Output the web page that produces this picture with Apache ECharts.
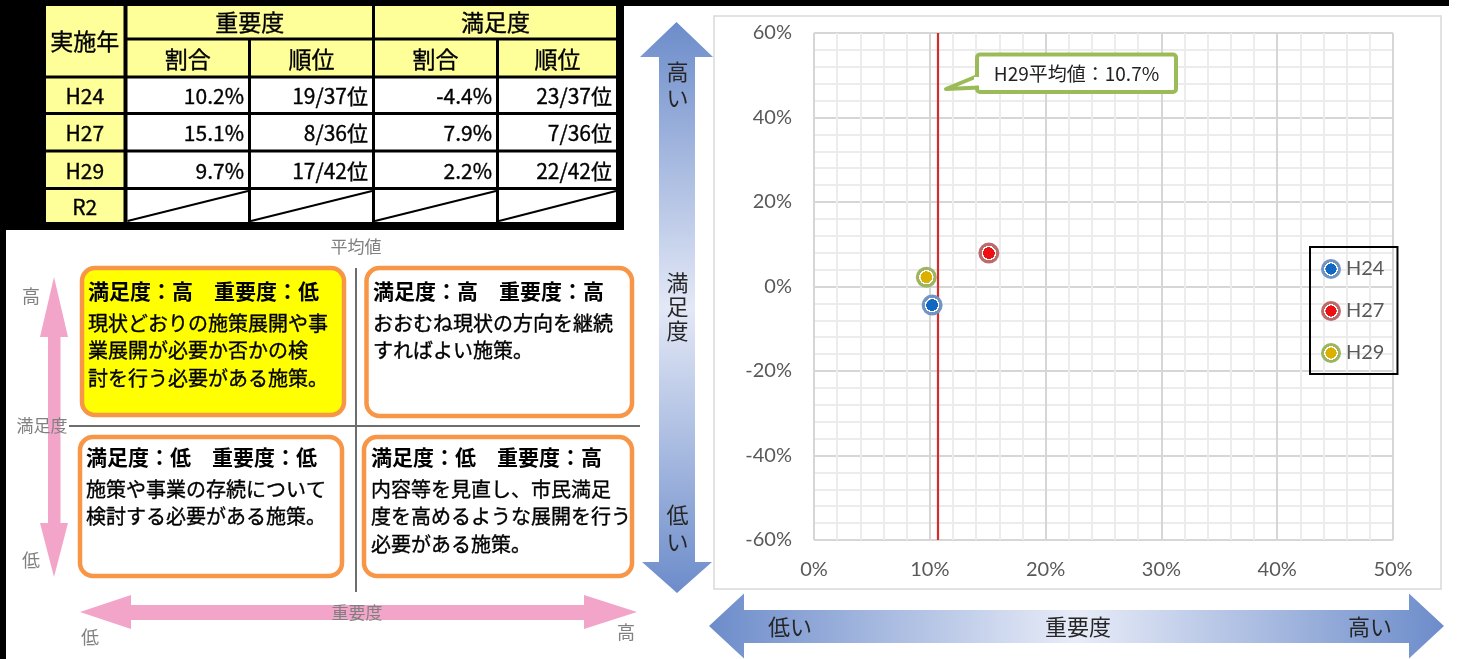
<!DOCTYPE html>
<html>
<head>
<meta charset="utf-8">
<script src="https://cdn.jsdelivr.net/npm/echarts@6/dist/echarts.min.js"></script>
<style>
  html, body { margin: 0; padding: 0; background: #ffffff; }
  #chart { width: 1475px; height: 659px; }
</style>
</head>
<body>
<div id="chart"></div>
<script>
// ---- data ----
const years = ['H24', 'H27', 'H29', 'R2'];
const importance = [10.2, 15.1, 9.7, null];          // 重要度 割合 (%)
const importanceRank = ['19/37位', '8/36位', '17/42位', null];
const satisfaction = [-4.4, 7.9, 2.2, null];         // 満足度 割合 (%)
const satisfactionRank = ['23/37位', '7/36位', '22/42位', null];
const meanYear = 'H29';
const meanImportance = 10.7;                         // H29 平均値 (%)
const xRange = [0, 50, 10];                          // min, max, step (%)
const yRange = [-60, 60, 20];

const tableHeader = ['実施年', '重要度', '満足度', '割合', '順位'];
const quadrantTitles = ['満足度：高　重要度：低', '満足度：高　重要度：高', '満足度：低　重要度：低', '満足度：低　重要度：高'];
const quadrantBodies = [
  ['現状どおりの施策展開や事', '業展開が必要か否かの検', '討を行う必要がある施策。'],
  ['おおむね現状の方向を継続', 'すればよい施策。'],
  ['施策や事業の存続について', '検討する必要がある施策。'],
  ['内容等を見直し、市民満足', '度を高めるような展開を行う', '必要がある施策。']
];

// ---- styles ----
const CJK = '"Noto Sans CJK JP", "Noto Sans", sans-serif';
const LAT = 'Lato, "Liberation Sans", sans-serif';
const markerColors = [
  { inner: '#1168c2', ring: '#7094c6' },
  { inner: '#ee1111', ring: '#bd6a6a' },
  { inner: '#dcb000', ring: '#9db461' }
];

function markerFill(c) {
  return {
    type: 'radial', x: 0.5, y: 0.5, r: 0.5,
    colorStops: [
      { offset: 0, color: c.inner },
      { offset: 0.55, color: c.inner },
      { offset: 0.56, color: '#ffffff' },
      { offset: 0.68, color: '#ffffff' },
      { offset: 0.69, color: c.ring },
      { offset: 1, color: c.ring }
    ]
  };
}
function linear(x2, y2, stops) {
  return { type: 'linear', x: 0, y: 0, x2, y2, colorStops: stops };
}

const G = [];
function rect(x, y, w, h, fill, extra) {
  G.push(Object.assign({ type: 'rect', silent: true, shape: { x, y, width: w, height: h }, style: { fill } }, extra || {}));
}
function text(t, x, y, opt) {
  G.push({
    type: 'text', silent: true, z: (opt && opt.z) || 10,
    style: Object.assign({
      text: t, x, y, fill: '#000', fontFamily: CJK, fontSize: 20,
      textAlign: 'center', textVerticalAlign: 'middle'
    }, opt || {})
  });
}
function poly(points, fill, z, extraStyle) {
  G.push({ type: 'polygon', silent: true, z: z || 1, shape: { points }, style: Object.assign({ fill }, extraStyle || {}) });
}
// slightly heavier black text
const heavy = { stroke: '#000', lineWidth: 0.35 };

// ---- black frame behind the table ----
rect(0, 0, 1449, 6, '#000');
rect(0, 0, 6, 659, '#000');
rect(0, 0, 624, 230, '#000');

// ---- table ----
const colSpans = [[46, 123.5], [127.5, 248], [251, 372], [375, 496], [499, 616]];
const rowSpans = [[6, 37.5], [40.5, 75.5], [78.5, 112], [115, 149.5], [152.5, 187], [190, 222]];
const yellowCell = '#ffff99';
function cell(c0, c1, r0, r1, fill) {
  const x = colSpans[c0][0], x2 = colSpans[c1][1], y = rowSpans[r0][0], y2 = rowSpans[r1][1];
  rect(x, y, x2 - x, y2 - y, fill, { z: 2 });
  return { cx: (x + x2) / 2, cy: (y + y2) / 2, x, x2, y, y2 };
}
let c = cell(0, 0, 0, 1, yellowCell);
text(tableHeader[0], c.cx, c.cy + 1, Object.assign({ fontSize: 23 }, heavy));
c = cell(1, 2, 0, 0, yellowCell);
text(tableHeader[1], c.cx, c.cy + 1, Object.assign({ fontSize: 23 }, heavy));
c = cell(3, 4, 0, 0, yellowCell);
text(tableHeader[2], c.cx, c.cy + 1, Object.assign({ fontSize: 23 }, heavy));
for (let k = 1; k <= 4; k++) {
  c = cell(k, k, 1, 1, yellowCell);
  text(k % 2 === 1 ? tableHeader[3] : tableHeader[4], c.cx, c.cy + 1, Object.assign({ fontSize: 23 }, heavy));
}
years.forEach((yr, i) => {
  const r = i + 2;
  c = cell(0, 0, r, r, yellowCell);
  text(yr, c.cx, c.cy + 1, Object.assign({ fontSize: 21 }, heavy));
  const vals = [
    importance[i] == null ? null : importance[i].toFixed(1) + '%',
    importanceRank[i],
    satisfaction[i] == null ? null : satisfaction[i].toFixed(1) + '%',
    satisfactionRank[i]
  ];
  vals.forEach((v, j) => {
    const cc = cell(j + 1, j + 1, r, r, '#ffffff');
    if (v == null) {
      G.push({ type: 'line', silent: true, z: 3, shape: { x1: cc.x, y1: cc.y2 - 1, x2: cc.x2, y2: cc.y + 1 }, style: { stroke: '#000', lineWidth: 2 } });
    } else {
      text(v, cc.x2 - 4, cc.cy + 1, Object.assign({ fontSize: 21, textAlign: 'right' }, heavy));
    }
  });
});

// ---- quadrant guide ----
const boxes = [
  { x: 82, y: 268, w: 262, h: 147, fill: '#ffff00', tx: 88, ty: 291.5 },
  { x: 366.5, y: 268, w: 265.5, h: 148, fill: '#ffffff', tx: 373, ty: 291.5 },
  { x: 80, y: 437, w: 262, h: 139, fill: '#ffffff', tx: 86, ty: 457.5 },
  { x: 364, y: 437, w: 268, h: 139, fill: '#ffffff', tx: 371, ty: 457.5 }
];
// cross lines at the average
G.push({ type: 'line', silent: true, z: 1, shape: { x1: 356, y1: 268, x2: 356, y2: 592 }, style: { stroke: '#6d6d6d', lineWidth: 2 } });
G.push({ type: 'line', silent: true, z: 1, shape: { x1: 69, y1: 426, x2: 640, y2: 426 }, style: { stroke: '#6d6d6d', lineWidth: 2 } });
boxes.forEach((b, i) => {
  G.push({ type: 'rect', silent: true, z: 4, shape: { x: b.x, y: b.y, width: b.w, height: b.h, r: 13 }, style: { fill: b.fill, stroke: '#f79646', lineWidth: 4.5 } });
  text(quadrantTitles[i], b.tx, b.ty, { fontSize: 21, fontWeight: 'bold', textAlign: 'left' });
  text(quadrantBodies[i].join('\n'), b.tx, b.ty + 18, Object.assign({ fontSize: 20, textAlign: 'left', textVerticalAlign: 'top', lineHeight: 27.5 }, heavy));
});
// pink arrows
const pink = '#f2a5c9';
poly([[54, 277], [68, 337], [60.5, 337], [60.5, 523], [68, 523], [54, 577], [40, 523], [48, 523], [48, 337], [40, 337]], pink);
poly([[80, 612], [131, 595], [131, 605], [584, 605], [584, 595], [637, 612], [584, 629], [584, 620], [131, 620], [131, 629]], pink);
const grey = '#808080';
text('平均値', 356, 247, { fontSize: 17, fill: grey });
text('満足度', 42, 426, { fontSize: 17, fill: grey });
text('高', 31, 296, { fontSize: 18, fill: grey });
text('低', 31, 560, { fontSize: 18, fill: grey });
text('重要度', 357, 613, { fontSize: 17, fill: grey });
text('低', 90, 637, { fontSize: 18, fill: grey });
text('高', 626, 632, { fontSize: 18, fill: grey });

// ---- blue direction arrows around the scatter plot ----
const blueEnd = '#6c8cca';
poly([[676.5, 22], [713, 57], [695, 57], [695, 562], [712, 562], [677, 593], [642, 562], [659, 562], [659, 57], [640, 57]],
  linear(0, 1, [{ offset: 0, color: blueEnd }, { offset: 0.5, color: '#e3e8f6' }, { offset: 1, color: blueEnd }]));
poly([[709, 626], [744, 593.5], [744, 610], [1409, 610], [1409, 593.5], [1444, 626], [1409, 658.5], [1409, 643], [744, 643], [744, 658.5]],
  linear(1, 0, [{ offset: 0, color: blueEnd }, { offset: 0.5, color: '#e8ecf8' }, { offset: 1, color: blueEnd }]));
const dark = '#262626';
text('高\nい', 677.5, 84.5, { fontSize: 22, fill: dark, lineHeight: 26 });
text('満\n足\n度', 677.5, 306.5, { fontSize: 22, fill: dark, lineHeight: 24 });
text('低\nい', 677.5, 528, { fontSize: 22, fill: dark, lineHeight: 27 });
text('低い', 790, 627, { fontSize: 22, fill: dark });
text('重要度', 1078, 627, { fontSize: 22, fill: dark });
text('高い', 1370, 627, { fontSize: 22, fill: dark });

// chart area outline
G.push({ type: 'rect', silent: true, z: 0, shape: { x: 714, y: 16, width: 727, height: 573 }, style: { fill: 'none', stroke: '#d9d9d9', lineWidth: 1.5 } });

// callout for the average line: tail, box, then a patch hiding the join
const calloutGreen = '#9bbb59';
poly([[980, 75], [946, 89], [980, 87.5]], '#ffffff', 100, { stroke: calloutGreen, lineWidth: 4, lineJoin: 'round' });
G.push({ type: 'rect', silent: true, z: 101, shape: { x: 977, y: 54.5, width: 199, height: 37.5, r: 3 }, style: { fill: '#ffffff', stroke: calloutGreen, lineWidth: 4 } });
rect(974, 77, 7, 8.5, '#ffffff', { z: 102 });
text(meanYear + '平均値：' + meanImportance.toFixed(1) + '%', 1076.5, 73.5, { fontSize: 19, fill: '#222', z: 103 });

// ---- scatter series ----
const series = [];
years.forEach((yr, i) => {
  if (importance[i] == null) return;
  const s = {
    type: 'scatter', name: yr, z: 5,
    data: [[importance[i], satisfaction[i]]],
    symbol: 'circle', symbolSize: 21,
    itemStyle: { color: markerFill(markerColors[i]), opacity: 1 },
    emphasis: { disabled: true }
  };
  if (yr === meanYear) {
    s.markLine = {
      silent: true, symbol: ['none', 'none'], animation: false,
      label: { show: false },
      lineStyle: { color: '#d42b2b', width: 2.2, type: 'solid' },
      data: [{ xAxis: meanImportance }]
    };
  }
  series.push(s);
});

const axisLabel = { color: '#595959', fontFamily: LAT, fontSize: 20, formatter: '{value}%' };
const option = {
  animation: false,
  backgroundColor: '#ffffff',
  grid: { left: 814, top: 33, width: 579, height: 507, containLabel: false },
  xAxis: {
    type: 'value', min: xRange[0], max: xRange[1], interval: xRange[2],
    axisLine: { show: false }, axisTick: { show: false },
    axisLabel: Object.assign({ margin: 20 }, axisLabel),
    splitLine: { show: true, lineStyle: { color: '#d6d6d6', width: 2 } },
    minorTick: { show: false, splitNumber: 5 },
    minorSplitLine: { show: true, lineStyle: { color: '#ececec', width: 2 } }
  },
  yAxis: {
    type: 'value', min: yRange[0], max: yRange[1], interval: yRange[2],
    axisLine: { show: false }, axisTick: { show: false },
    axisLabel: Object.assign({ margin: 22 }, axisLabel),
    splitLine: { show: true, lineStyle: { color: '#d6d6d6', width: 2 } },
    minorTick: { show: false, splitNumber: 5 },
    minorSplitLine: { show: true, lineStyle: { color: '#ececec', width: 2 } }
  },
  legend: {
    orient: 'vertical', left: 1310, top: 247,
    data: years.filter((y, i) => importance[i] != null).map(n => ({ name: n, icon: 'circle' })),
    itemWidth: 20, itemHeight: 20, itemGap: 22,
    padding: [12, 13, 11, 11],
    borderColor: '#000', borderWidth: 2,
    selectedMode: false,
    textStyle: { color: '#595959', fontFamily: LAT, fontSize: 20 }
  },
  series,
  graphic: { elements: G }
};

const chart = echarts.init(document.getElementById('chart'));
chart.setOption(option);
</script>
</body>
</html>
